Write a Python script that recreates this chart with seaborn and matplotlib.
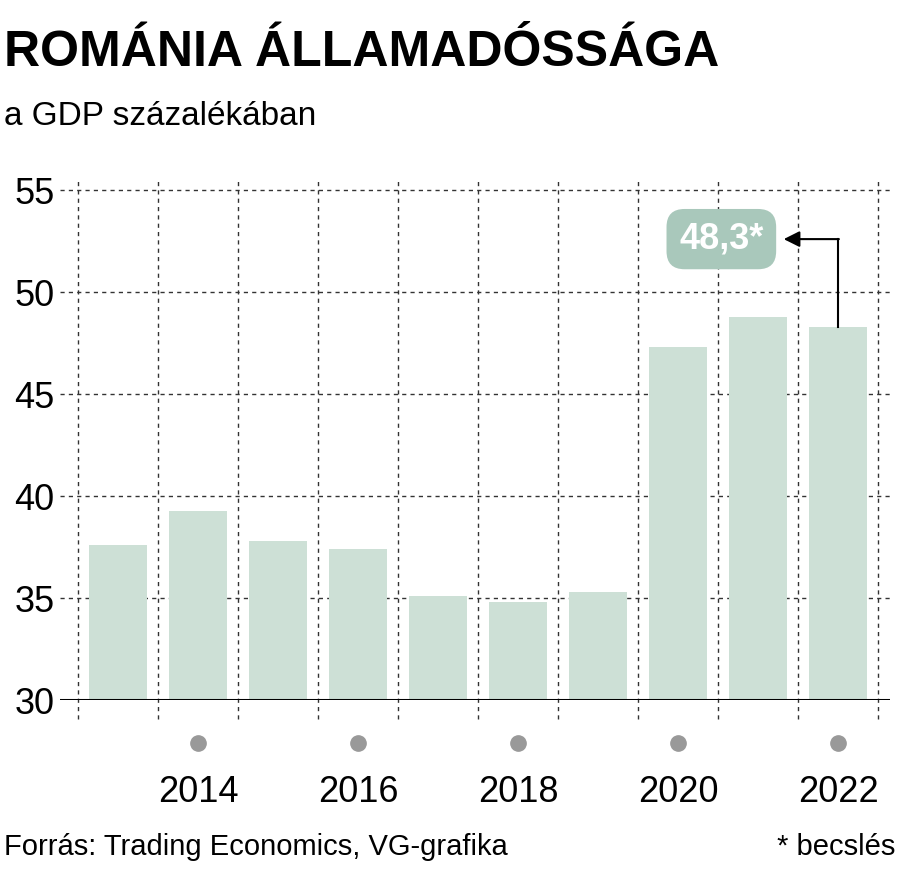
import matplotlib
matplotlib.use("Agg")
import matplotlib.pyplot as plt
import seaborn as sns
import pandas as pd

years = [2013, 2014, 2015, 2016, 2017, 2018, 2019, 2020, 2021, 2022]
debt = [37.6, 39.3, 37.8, 37.4, 35.1, 34.8, 35.3, 47.3, 48.8, 48.3]
label_years = [2014, 2016, 2018, 2020, 2022]
y_ticks = [30, 35, 40, 45, 50, 55]

df = pd.DataFrame({"year": years, "debt": debt})
plt.rcParams["font.family"] = "Liberation Sans"

fig = plt.figure(figsize=(9, 8.82), dpi=100)
ax = fig.add_axes([0.067, 0.206, 0.922, 0.59])
sns.barplot(data=df, x="year", y="debt", color="#cde0d6", width=0.72,
            saturation=1, ax=ax, zorder=2)
ax.set_ylim(30, 55.5)
ax.set_xlim(-0.725, 9.65)
for s in ax.spines.values():
    s.set_visible(False)
ax.axhline(30, color="black", lw=2.2, zorder=3)
for t in y_ticks[1:]:
    ax.axhline(t, color="#333333", lw=1, ls=(0, (3, 3)), zorder=1)
for i in range(len(years) + 1):
    ax.vlines(i - 0.5, 29.1, 55.5, color="#333333", lw=1, ls=(0, (3, 3)),
              zorder=1, clip_on=False)
ax.set_yticks(y_ticks)
ax.set_yticklabels([str(t) for t in y_ticks], fontsize=26)
ax.tick_params(axis="y", length=0, pad=4)
ax.set_xticks([])
ax.set_xlabel("")
ax.set_ylabel("")
for y in label_years:
    i = years.index(y)
    ax.plot(i, 27.9, "o", color="#999999", ms=11, clip_on=False)
    ax.text(i, 25.5, str(y), ha="center", va="center", fontsize=26)

# annotation of 2022 estimate
last = len(years) - 1
ax.plot([last, last], [debt[-1], 52.6], color="black", lw=1.5, zorder=5)
ax.annotate("", xy=(last - 0.68, 52.6), xytext=(last + 0.01, 52.6),
            arrowprops=dict(arrowstyle="-|>", color="black", lw=1.5,
                            mutation_scale=24, shrinkA=0, shrinkB=0), zorder=5)
ax.text(last - 1.46, 52.6, "48,3*", ha="center", va="center", fontsize=26,
        fontweight="bold", color="white", zorder=6,
        bbox=dict(boxstyle="round,pad=0.35,rounding_size=0.5", fc="#a9c8bb", ec="none"))

fig.text(0.005, 0.94, "ROMÁNIA ÁLLAMADÓSSÁGA", fontsize=36, fontweight="bold",
         va="center")
fig.text(0.005, 0.868, "a GDP százalékában", fontsize=24, va="center")
fig.text(0.005, 0.04, "Forrás: Trading Economics, VG-grafika", fontsize=21, va="center")
fig.text(0.995, 0.04, "* becslés", fontsize=21, va="center", ha="right")
fig.savefig("out.png", dpi=100)
